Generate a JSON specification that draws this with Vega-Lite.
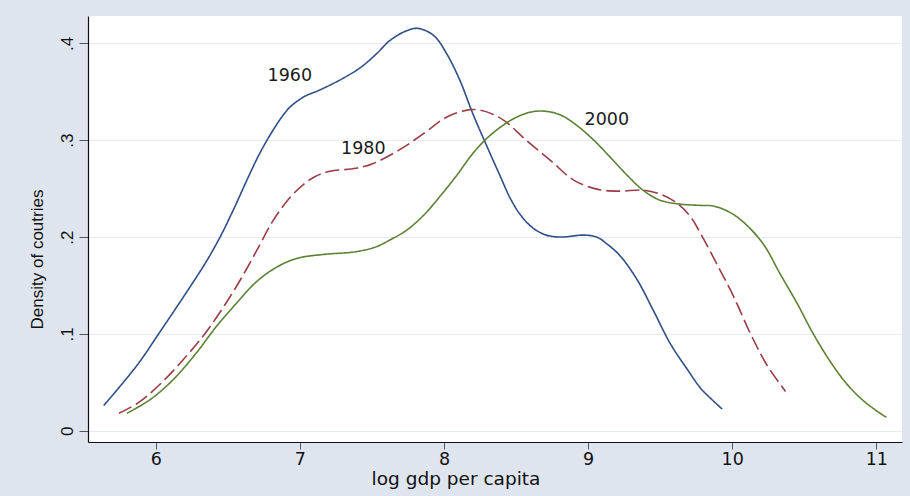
{
  "$schema": "https://vega.github.io/schema/vega-lite/v6.json",
  "width": 814,
  "height": 426,
  "autosize": {"type": "none"},
  "padding": {"left": 88, "top": 16, "right": 8, "bottom": 54},
  "background": "#dfe5ef",
  "config": {"view": {"fill": "white", "stroke": null}, "font": "DejaVu Sans"},
  "datasets": {
    "curves": [
      {"year": "1960", "x": 5.639, "y": 0.026},
      {"year": "1960", "x": 5.77, "y": 0.049},
      {"year": "1960", "x": 5.89, "y": 0.0715},
      {"year": "1960", "x": 6.02, "y": 0.1},
      {"year": "1960", "x": 6.14, "y": 0.1265},
      {"year": "1960", "x": 6.24, "y": 0.149},
      {"year": "1960", "x": 6.35, "y": 0.1745},
      {"year": "1960", "x": 6.45, "y": 0.201},
      {"year": "1960", "x": 6.54, "y": 0.2285},
      {"year": "1960", "x": 6.63, "y": 0.258},
      {"year": "1960", "x": 6.72, "y": 0.286},
      {"year": "1960", "x": 6.8, "y": 0.307},
      {"year": "1960", "x": 6.87, "y": 0.323},
      {"year": "1960", "x": 6.93, "y": 0.334},
      {"year": "1960", "x": 7.03, "y": 0.345},
      {"year": "1960", "x": 7.14, "y": 0.352},
      {"year": "1960", "x": 7.3, "y": 0.364},
      {"year": "1960", "x": 7.42, "y": 0.375},
      {"year": "1960", "x": 7.53, "y": 0.389},
      {"year": "1960", "x": 7.625, "y": 0.403},
      {"year": "1960", "x": 7.74, "y": 0.413},
      {"year": "1960", "x": 7.82, "y": 0.4155},
      {"year": "1960", "x": 7.93, "y": 0.408},
      {"year": "1960", "x": 8.02, "y": 0.389},
      {"year": "1960", "x": 8.11, "y": 0.362},
      {"year": "1960", "x": 8.2, "y": 0.3275},
      {"year": "1960", "x": 8.3, "y": 0.293},
      {"year": "1960", "x": 8.39, "y": 0.263},
      {"year": "1960", "x": 8.46, "y": 0.24},
      {"year": "1960", "x": 8.53, "y": 0.223},
      {"year": "1960", "x": 8.62, "y": 0.209},
      {"year": "1960", "x": 8.71, "y": 0.202},
      {"year": "1960", "x": 8.81, "y": 0.2},
      {"year": "1960", "x": 8.97, "y": 0.202},
      {"year": "1960", "x": 9.06, "y": 0.2},
      {"year": "1960", "x": 9.13, "y": 0.193},
      {"year": "1960", "x": 9.22, "y": 0.181},
      {"year": "1960", "x": 9.34, "y": 0.156},
      {"year": "1960", "x": 9.45, "y": 0.125},
      {"year": "1960", "x": 9.57, "y": 0.09},
      {"year": "1960", "x": 9.69, "y": 0.063},
      {"year": "1960", "x": 9.78, "y": 0.044},
      {"year": "1960", "x": 9.86, "y": 0.032},
      {"year": "1960", "x": 9.93, "y": 0.0224},
      {"year": "1980", "x": 5.745, "y": 0.018},
      {"year": "1980", "x": 5.89, "y": 0.03},
      {"year": "1980", "x": 6.05, "y": 0.051},
      {"year": "1980", "x": 6.21, "y": 0.0766},
      {"year": "1980", "x": 6.35, "y": 0.102},
      {"year": "1980", "x": 6.51, "y": 0.137},
      {"year": "1980", "x": 6.63, "y": 0.167},
      {"year": "1980", "x": 6.72, "y": 0.1915},
      {"year": "1980", "x": 6.81, "y": 0.216},
      {"year": "1980", "x": 6.93, "y": 0.2406},
      {"year": "1980", "x": 7.02, "y": 0.2536},
      {"year": "1980", "x": 7.1, "y": 0.262},
      {"year": "1980", "x": 7.21, "y": 0.268},
      {"year": "1980", "x": 7.39, "y": 0.271},
      {"year": "1980", "x": 7.51, "y": 0.276},
      {"year": "1980", "x": 7.69, "y": 0.29},
      {"year": "1980", "x": 7.86, "y": 0.307},
      {"year": "1980", "x": 8.02, "y": 0.324},
      {"year": "1980", "x": 8.18, "y": 0.3316},
      {"year": "1980", "x": 8.25, "y": 0.331},
      {"year": "1980", "x": 8.32, "y": 0.328},
      {"year": "1980", "x": 8.42, "y": 0.32},
      {"year": "1980", "x": 8.57, "y": 0.3},
      {"year": "1980", "x": 8.74, "y": 0.279},
      {"year": "1980", "x": 8.9, "y": 0.2588},
      {"year": "1980", "x": 9.06, "y": 0.2495},
      {"year": "1980", "x": 9.22, "y": 0.2474},
      {"year": "1980", "x": 9.38, "y": 0.2485},
      {"year": "1980", "x": 9.5, "y": 0.2443},
      {"year": "1980", "x": 9.62, "y": 0.2347},
      {"year": "1980", "x": 9.71, "y": 0.221},
      {"year": "1980", "x": 9.78, "y": 0.2037},
      {"year": "1980", "x": 9.89, "y": 0.173},
      {"year": "1980", "x": 10.01, "y": 0.1385},
      {"year": "1980", "x": 10.125, "y": 0.1007},
      {"year": "1980", "x": 10.24, "y": 0.068},
      {"year": "1980", "x": 10.37, "y": 0.0405},
      {"year": "2000", "x": 5.8, "y": 0.018},
      {"year": "2000", "x": 5.96, "y": 0.032},
      {"year": "2000", "x": 6.12, "y": 0.0526},
      {"year": "2000", "x": 6.28, "y": 0.08},
      {"year": "2000", "x": 6.42, "y": 0.1075},
      {"year": "2000", "x": 6.56, "y": 0.1316},
      {"year": "2000", "x": 6.7, "y": 0.154},
      {"year": "2000", "x": 6.84, "y": 0.169},
      {"year": "2000", "x": 6.98, "y": 0.178},
      {"year": "2000", "x": 7.16, "y": 0.182},
      {"year": "2000", "x": 7.39, "y": 0.1849},
      {"year": "2000", "x": 7.53, "y": 0.19},
      {"year": "2000", "x": 7.625, "y": 0.197},
      {"year": "2000", "x": 7.74, "y": 0.207},
      {"year": "2000", "x": 7.86, "y": 0.2227},
      {"year": "2000", "x": 7.97, "y": 0.2416},
      {"year": "2000", "x": 8.09, "y": 0.264},
      {"year": "2000", "x": 8.2, "y": 0.2863},
      {"year": "2000", "x": 8.32, "y": 0.305},
      {"year": "2000", "x": 8.48, "y": 0.322},
      {"year": "2000", "x": 8.6, "y": 0.329},
      {"year": "2000", "x": 8.7, "y": 0.33},
      {"year": "2000", "x": 8.81, "y": 0.326},
      {"year": "2000", "x": 8.92, "y": 0.3155},
      {"year": "2000", "x": 9.04, "y": 0.3},
      {"year": "2000", "x": 9.15, "y": 0.283},
      {"year": "2000", "x": 9.27, "y": 0.264},
      {"year": "2000", "x": 9.38, "y": 0.2485},
      {"year": "2000", "x": 9.5, "y": 0.238},
      {"year": "2000", "x": 9.64, "y": 0.234},
      {"year": "2000", "x": 9.78, "y": 0.2327},
      {"year": "2000", "x": 9.87, "y": 0.232},
      {"year": "2000", "x": 9.99, "y": 0.225},
      {"year": "2000", "x": 10.1, "y": 0.2124},
      {"year": "2000", "x": 10.22, "y": 0.1918},
      {"year": "2000", "x": 10.33, "y": 0.1626},
      {"year": "2000", "x": 10.45, "y": 0.1316},
      {"year": "2000", "x": 10.56, "y": 0.1007},
      {"year": "2000", "x": 10.68, "y": 0.0715},
      {"year": "2000", "x": 10.8, "y": 0.0474},
      {"year": "2000", "x": 10.93, "y": 0.0285},
      {"year": "2000", "x": 11.07, "y": 0.0137}
    ],
    "labels": [
      {"label": "1960", "x": 6.93, "y": 0.366},
      {"label": "1980", "x": 7.44, "y": 0.2907},
      {"label": "2000", "x": 9.13, "y": 0.3206}
    ]
  },
  "layer": [
    {
      "data": {"name": "curves"},
      "mark": {"type": "line", "interpolate": "catmull-rom", "strokeWidth": 1.6},
      "encoding": {
        "x": {
          "field": "x",
          "type": "quantitative",
          "scale": {"domain": [5.53, 11.178], "nice": false, "zero": false},
          "axis": {
            "values": [6, 7, 8, 9, 10, 11],
            "format": "d",
            "grid": false,
            "tickSize": 7,
            "tickColor": "#555555",
            "domainColor": "#111111",
            "domainWidth": 1.2,
            "labelFont": "DejaVu Sans",
            "labelFontSize": 17.5,
            "labelColor": "#111111",
            "labelBaseline": "alphabetic",
            "labelPadding": 15.5,
            "title": "log gdp per capita",
            "titleFont": "DejaVu Sans",
            "titleFontSize": 18.5,
            "titleFontWeight": "normal",
            "titleColor": "#111111",
            "titleX": 367.5,
            "titleY": 42,
            "titleBaseline": "alphabetic",
            "titleAlign": "center"
          }
        },
        "y": {
          "field": "y",
          "type": "quantitative",
          "scale": {"domain": [-0.01166, 0.4283], "nice": false, "zero": false},
          "axis": {
            "values": [0, 0.1, 0.2, 0.3, 0.4],
            "labelExpr": "datum.value == 0 ? '0' : replace(format(datum.value, '.1f'), '0.', '.')",
            "grid": true,
            "gridColor": "#e6eaf3",
            "gridWidth": 1,
            "tickSize": 9,
            "tickColor": "#555555",
            "domainColor": "#111111",
            "domainWidth": 1.2,
            "labelAngle": 270,
            "labelAlign": "center",
            "labelBaseline": "alphabetic",
            "labelPadding": 7,
            "labelFont": "Liberation Sans",
            "labelFontSize": 17,
            "labelColor": "#111111",
            "title": "Density of coutries",
            "titleFont": "Liberation Sans",
            "titleFontSize": 17,
            "titleFontWeight": "normal",
            "titleColor": "#111111",
            "titleAngle": 270,
            "titleX": -46,
            "titleY": 243,
            "titleBaseline": "alphabetic",
            "titleAlign": "center"
          }
        },
        "color": {
          "field": "year",
          "type": "nominal",
          "scale": {"domain": ["1960", "1980", "2000"], "range": ["#2f4f85", "#9a3d46", "#5c8035"]},
          "legend": null
        },
        "strokeDash": {
          "field": "year",
          "type": "nominal",
          "scale": {"domain": ["1960", "1980", "2000"], "range": [[1, 0], [14, 5], [1, 0]]},
          "legend": null
        }
      }
    },
    {
      "data": {"name": "labels"},
      "mark": {"type": "text", "font": "DejaVu Sans", "fontSize": 17.5, "color": "#1a1a1a", "align": "center", "baseline": "middle"},
      "encoding": {
        "x": {"field": "x", "type": "quantitative"},
        "y": {"field": "y", "type": "quantitative"},
        "text": {"field": "label", "type": "nominal"}
      }
    }
  ]
}
